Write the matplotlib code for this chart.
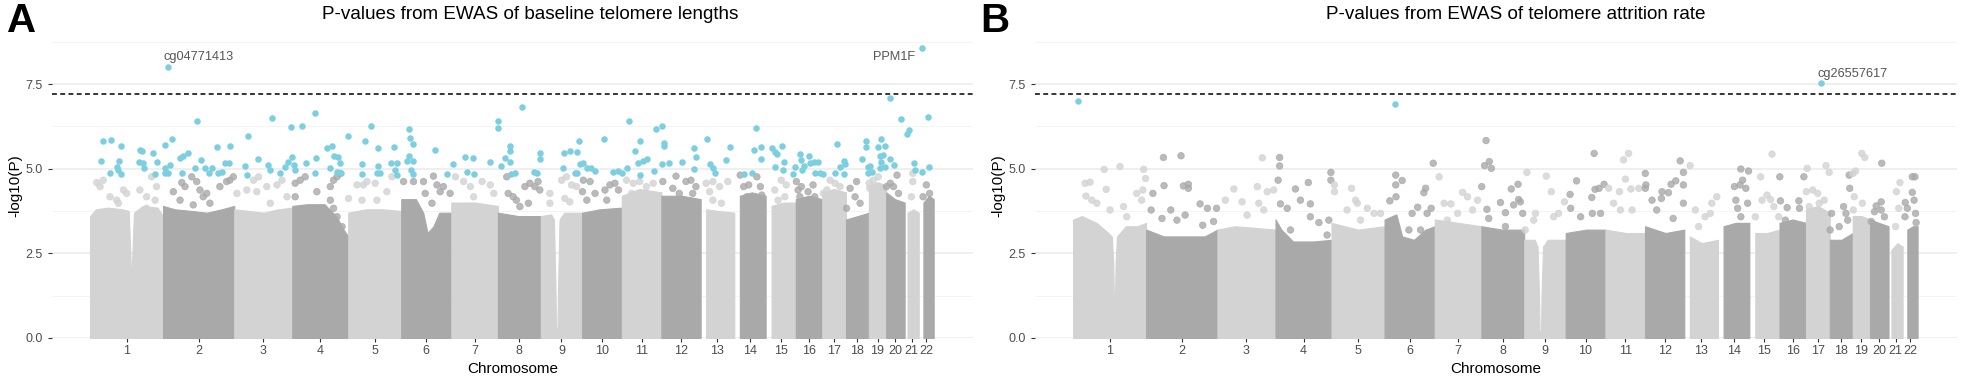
import numpy as np
import matplotlib.pyplot as plt

plt.rcParams['font.family'] = ['Liberation Sans', 'DejaVu Sans']

# chromosome lengths (Mb, hg19) and tick labels
chrom_len = [249.25, 243.20, 198.02, 191.15, 180.92, 171.12, 159.14, 146.36,
             141.21, 135.53, 135.01, 133.85, 115.17, 107.35, 102.53, 90.35,
             81.20, 78.08, 59.13, 63.03, 48.13, 51.30]
chrom_labels = [str(i) for i in range(1, 23)]

threshold = 7.2

# upper edge of the dense cloud of probes: (chr, pos Mb, -log10 P)
bulk_a = [
    (1, 0, 3.6), (1, 20, 3.8), (1, 60, 3.85), (1, 110, 3.8), (1, 132, 3.75), (1, 137, 2.6),
    (1, 139, 2.1), (1, 143, 2.1), (1, 145, 2.6), (1, 150, 3.7), (1, 180, 3.9), (1, 230, 3.85),
    (1, 249, 3.6),
    (2, 0, 3.9), (2, 40, 3.8), (2, 100, 3.75), (2, 150, 3.7), (2, 200, 3.8), (2, 243, 3.9),
    (3, 0, 3.8), (3, 50, 3.75), (3, 100, 3.7), (3, 150, 3.8), (3, 198, 3.85),
    (4, 0, 3.9), (4, 50, 3.95), (4, 110, 3.95), (4, 150, 3.6), (4, 175, 3.2), (4, 191, 3.0),
    (5, 0, 3.7), (5, 60, 3.8), (5, 120, 3.8), (5, 181, 3.75),
    (6, 0, 4.1), (6, 50, 4.1), (6, 75, 3.7), (6, 90, 3.1), (6, 110, 3.3), (6, 130, 3.7), (6, 171, 3.7),
    (7, 0, 4.0), (7, 80, 4.0), (7, 159, 3.9),
    (8, 0, 3.7), (8, 70, 3.6), (8, 146, 3.6),
    (9, 0, 3.6), (9, 35, 3.65), (9, 45, 3.5), (9, 50, 1.5), (9, 52, 0.3), (9, 57, 0.3),
    (9, 59, 1.5), (9, 64, 3.5), (9, 80, 3.7), (9, 141, 3.7),
    (10, 0, 3.7), (10, 60, 3.8), (10, 136, 3.85),
    (11, 0, 4.2), (11, 60, 4.4), (11, 135, 4.3),
    (12, 0, 4.2), (12, 70, 4.2), (12, 134, 4.1),
    (13, 19, 3.8), (13, 60, 3.75), (13, 115, 3.7),
    (14, 19, 4.2), (14, 60, 4.3), (14, 107, 4.2),
    (15, 20, 3.9), (15, 60, 4.0), (15, 103, 4.0),
    (16, 0, 4.1), (16, 45, 4.2), (16, 90, 4.1),
    (17, 0, 4.3), (17, 40, 4.4), (17, 81, 4.3),
    (18, 0, 3.5), (18, 40, 3.6), (18, 78, 3.7),
    (19, 0, 4.5), (19, 30, 4.6), (19, 59, 4.5),
    (20, 0, 4.3), (20, 30, 4.1), (20, 63, 4.0),
    (21, 10, 3.7), (21, 30, 3.8), (21, 48, 3.7),
    (22, 16, 4.0), (22, 35, 4.2), (22, 51, 4.1),
]

bulk_b = [
    (1, 0, 3.5), (1, 30, 3.6), (1, 80, 3.4), (1, 120, 3.1), (1, 132, 3.0), (1, 137, 2.2),
    (1, 139, 1.2), (1, 143, 1.2), (1, 145, 2.2), (1, 150, 3.0), (1, 180, 3.3), (1, 220, 3.3),
    (1, 249, 3.4),
    (2, 0, 3.2), (2, 60, 3.0), (2, 130, 3.0), (2, 200, 3.0), (2, 243, 3.2),
    (3, 0, 3.2), (3, 60, 3.3), (3, 130, 3.25), (3, 198, 3.2),
    (4, 0, 3.5), (4, 20, 3.2), (4, 60, 2.85), (4, 130, 2.85), (4, 191, 2.9),
    (5, 0, 3.4), (5, 90, 3.2), (5, 181, 3.3),
    (6, 0, 3.5), (6, 40, 3.65), (6, 60, 3.0), (6, 100, 2.9), (6, 140, 3.2), (6, 171, 3.3),
    (7, 0, 3.5), (7, 80, 3.4), (7, 159, 3.3),
    (8, 0, 3.3), (8, 70, 3.2), (8, 146, 3.2),
    (9, 0, 2.9), (9, 35, 2.9), (9, 45, 2.7), (9, 50, 1.3), (9, 52, 0.2), (9, 57, 0.2),
    (9, 59, 1.3), (9, 64, 2.7), (9, 80, 2.9), (9, 141, 2.9),
    (10, 0, 3.1), (10, 70, 3.2), (10, 136, 3.2),
    (11, 0, 3.2), (11, 70, 3.1), (11, 135, 3.1),
    (12, 0, 3.3), (12, 70, 3.1), (12, 134, 3.2),
    (13, 19, 3.0), (13, 60, 2.8), (13, 115, 2.9),
    (14, 19, 3.3), (14, 60, 3.4), (14, 107, 3.4),
    (15, 20, 3.1), (15, 60, 3.1), (15, 103, 3.2),
    (16, 0, 3.4), (16, 45, 3.5), (16, 90, 3.4),
    (17, 0, 3.8), (17, 40, 3.9), (17, 81, 3.7),
    (18, 0, 2.9), (18, 40, 2.9), (18, 78, 3.1),
    (19, 0, 3.6), (19, 30, 3.6), (19, 59, 3.5),
    (20, 0, 3.5), (20, 30, 3.4), (20, 63, 3.3),
    (21, 10, 2.6), (21, 30, 2.8), (21, 48, 2.7),
    (22, 16, 3.2), (22, 35, 3.3), (22, 51, 3.3),
]

# loose probes above the cloud
grey_a = [
    (1, 23, 4.59), (1, 34, 4.47), (1, 45, 4.66), (1, 68, 4.17), (1, 91, 4.07), (1, 114, 4.37),
    (1, 125, 4.27), (1, 97, 3.98), (1, 170, 4.37), (1, 193, 4.17), (1, 210, 4.76), (1, 227, 4.47),
    (1, 222, 4.07), (1, 193, 3.83),
    (2, 35, 4.32), (2, 64, 4.59), (2, 75, 4.47), (2, 98, 4.76), (2, 115, 4.62), (2, 126, 4.37),
    (2, 137, 4.17), (2, 160, 3.98), (2, 149, 4.27), (2, 194, 4.47), (2, 217, 4.62), (2, 228, 4.66),
    (2, 240, 4.76), (2, 58, 4.07), (2, 103, 3.93),
    (3, 9, 4.27), (3, 43, 4.37), (3, 66, 4.66), (3, 83, 4.76), (3, 111, 4.47), (3, 123, 3.98),
    (3, 146, 4.52), (3, 163, 4.66), (3, 180, 4.17), (3, 77, 4.32),
    (4, 10, 4.57), (4, 27, 4.66), (4, 44, 4.76), (4, 10, 4.17), (4, 84, 4.32), (4, 130, 4.47),
    (4, 141, 4.66), (4, 153, 4.76), (4, 164, 4.86), (4, 130, 4.07), (4, 141, 3.83), (4, 153, 3.58),
    (4, 170, 3.29),
    (5, 1, 4.12), (5, 30, 4.52), (5, 52, 4.52), (5, 64, 4.62), (5, 92, 4.57), (5, 132, 4.32),
    (5, 149, 4.76), (5, 98, 4.07), (5, 47, 4.07),
    (6, 8, 4.62), (6, 42, 4.62), (6, 76, 4.62), (6, 110, 4.78), (6, 122, 4.52), (6, 133, 4.32),
    (6, 144, 4.47), (6, 167, 4.27), (6, 82, 4.27), (6, 105, 3.98),
    (7, 14, 4.76), (7, 42, 4.62), (7, 65, 4.47), (7, 105, 4.62), (7, 133, 4.52), (7, 145, 4.27),
    (7, 76, 4.17),
    (8, 30, 4.76), (8, 35, 4.27), (8, 52, 4.17), (8, 63, 4.07), (8, 92, 4.47), (8, 109, 4.57),
    (8, 126, 4.47), (8, 137, 4.62), (8, 143, 4.37), (8, 75, 3.88), (8, 104, 3.98),
    (9, 31, 4.27), (9, 31, 3.98), (9, 71, 4.66), (9, 88, 4.76), (9, 105, 4.52), (9, 82, 4.12),
    (9, 122, 4.47), (9, 99, 4.02),
    (10, 4, 4.66), (10, 27, 4.62), (10, 1, 4.32), (10, 16, 4.07), (10, 44, 4.27), (10, 78, 4.37),
    (10, 95, 4.52), (10, 112, 4.57), (10, 124, 4.37), (10, 84, 4.07),
    (11, 16, 4.66), (11, 39, 4.57), (11, 61, 4.62), (11, 84, 4.47), (11, 107, 4.57), (11, 33, 4.27),
    (11, 90, 4.17),
    (12, 50, 4.78), (12, 5, 4.62), (12, 39, 4.42), (12, 84, 4.62), (12, 101, 4.66), (12, 118, 4.47),
    (12, 61, 4.27), (12, 107, 4.27),
    (13, 19, 4.57), (13, 42, 4.62), (13, 31, 4.32), (13, 65, 4.47), (13, 93, 4.62), (13, 71, 3.98),
    (13, 42, 4.07),
    (14, 20, 4.81), (14, 32, 4.47), (14, 49, 4.52), (14, 77, 4.76), (14, 89, 4.47), (14, 43, 4.17),
    (14, 66, 4.07), (14, 94, 4.22),
    (15, 53, 4.66), (15, 70, 4.52), (15, 31, 4.37), (15, 42, 4.07), (15, 65, 4.17),
    (16, 2, 4.62), (16, 8, 4.37), (16, 19, 4.47), (16, 42, 4.32), (16, 59, 4.52), (16, 14, 4.17),
    (16, 65, 4.17),
    (17, 27, 4.66), (17, 44, 4.57), (17, 16, 4.37), (17, 61, 4.47), (17, 4, 4.27),
    (18, 14, 4.42), (18, 36, 4.62), (18, 2, 3.83), (18, 48, 3.98), (18, 31, 4.17),
    (19, 1, 4.57), (19, 15, 4.66), (19, 32, 4.76), (19, 3, 4.42),
    (20, 37, 4.81), (20, 14, 4.57), (20, 42, 4.27), (20, 25, 4.47), (20, 1, 4.47),
    (21, 28, 4.62), (21, 23, 4.17), (21, 28, 4.86),
    (22, 26, 4.52), (22, 37, 4.27), (22, 15, 4.17),
]

grey_b = [
    (1, 41, 4.57), (1, 58, 4.6), (1, 44, 4.19), (1, 64, 4.07), (1, 81, 3.98), (1, 106, 4.98),
    (1, 113, 4.39), (1, 126, 3.78), (1, 160, 5.06), (1, 172, 3.88), (1, 183, 3.58), (1, 217, 4.27),
    (1, 241, 4.98), (1, 247, 4.71), (1, 238, 4.37), (1, 234, 4.07),
    (2, 23, 4.27), (2, 59, 5.33), (2, 61, 4.5), (2, 54, 3.53), (2, 84, 3.78), (2, 119, 5.38),
    (2, 127, 4.49), (2, 144, 4.54), (2, 144, 4.42), (2, 133, 3.63), (2, 184, 3.96), (2, 209, 3.83),
    (2, 193, 3.33), (2, 240, 3.83), (2, 230, 3.44), (2, 105, 3.48), (2, 17, 3.78),
    (3, 27, 4.07), (3, 56, 4.4), (3, 84, 4.02), (3, 136, 4.47), (3, 153, 5.32), (3, 170, 4.32),
    (3, 192, 4.37), (3, 141, 3.98), (3, 158, 3.78), (3, 101, 3.63),
    (4, 14, 5.33), (4, 14, 5.08), (4, 9, 4.66), (4, 17, 3.96), (4, 40, 3.83), (4, 68, 4.4),
    (4, 85, 4.07), (4, 112, 4.59), (4, 119, 3.96), (4, 51, 3.19), (4, 119, 3.58), (4, 148, 3.41),
    (4, 182, 3.48), (4, 189, 4.89), (4, 189, 4.66), (4, 176, 3.04),
    (5, 10, 4.32), (5, 10, 4.52), (5, 68, 4.42), (5, 82, 4.07), (5, 88, 3.98), (5, 122, 3.83),
    (5, 145, 3.68), (5, 167, 3.68), (5, 53, 3.78), (5, 99, 3.48),
    (6, 38, 4.81), (6, 38, 4.52), (6, 60, 4.65), (6, 39, 4.17), (6, 18, 4.05), (6, 94, 3.68),
    (6, 113, 3.86), (6, 134, 4.29), (6, 140, 4.42), (6, 145, 3.68), (6, 166, 5.16), (6, 159, 3.83),
    (6, 83, 3.19), (6, 123, 3.19),
    (7, 15, 4.76), (7, 32, 3.98), (7, 55, 3.96), (7, 95, 4.3), (7, 112, 4.17), (7, 146, 4.07),
    (7, 78, 3.68), (7, 129, 3.78), (7, 43, 3.48),
    (8, 16, 5.83), (8, 11, 5.09), (8, 27, 5.21), (8, 34, 5.01), (8, 1, 4.47), (8, 19, 3.8),
    (8, 25, 3.53), (8, 65, 4.0), (8, 82, 3.7), (8, 102, 4.4), (8, 125, 4.54), (8, 127, 4.09),
    (8, 133, 4.02), (8, 141, 3.68), (8, 82, 3.29), (8, 110, 3.93),
    (9, 9, 4.89), (9, 75, 4.78), (9, 92, 4.32), (9, 38, 3.68), (9, 32, 3.48), (9, 100, 3.58),
    (9, 117, 3.68), (9, 137, 4.02), (9, 3, 3.19),
    (10, 15, 4.24), (10, 37, 4.64), (10, 17, 3.83), (10, 51, 3.58), (10, 89, 4.15), (10, 97, 5.45),
    (10, 100, 4.39), (10, 114, 4.42), (10, 131, 4.54), (10, 119, 3.68), (10, 91, 3.68),
    (11, 62, 5.26), (11, 79, 5.45), (11, 68, 4.69), (11, 48, 4.32), (11, 87, 4.4), (11, 11, 4.42),
    (11, 28, 3.98), (11, 51, 3.78), (11, 114, 4.42), (11, 91, 3.78),
    (12, 1, 4.86), (12, 1, 4.42), (12, 3, 4.52), (12, 24, 4.07), (12, 56, 4.12), (12, 58, 4.32),
    (12, 80, 4.29), (12, 89, 4.54), (12, 105, 4.64), (12, 120, 5.23), (12, 131, 4.89),
    (12, 131, 4.52), (12, 131, 3.98), (12, 40, 3.78), (12, 96, 3.53),
    (13, 20, 5.09), (13, 38, 3.78), (13, 94, 3.98), (13, 111, 4.17), (13, 71, 3.58), (13, 89, 3.68),
    (13, 49, 3.29),
    (14, 78, 4.99), (14, 104, 4.93), (14, 84, 4.66), (14, 75, 4.52), (14, 61, 4.07), (14, 56, 4.47),
    (14, 95, 4.42), (14, 101, 3.98), (14, 67, 3.83), (14, 78, 3.58),
    (15, 77, 5.43), (15, 38, 4.76), (15, 60, 4.22), (15, 72, 4.09), (15, 43, 4.07), (15, 20, 3.58),
    (15, 83, 3.88), (15, 100, 3.58),
    (16, 1, 4.76), (16, 3, 4.05), (16, 26, 3.85), (16, 66, 4.05), (16, 83, 4.76), (16, 68, 3.83),
    (16, 20, 3.48),
    (17, 4, 5.01), (17, 1, 4.32), (17, 23, 4.37), (17, 40, 4.27), (17, 45, 3.98), (17, 11, 3.88),
    (17, 62, 4.07), (17, 68, 5.09), (17, 79, 4.89),
    (18, 6, 3.68), (18, 1, 3.19), (18, 47, 3.88), (18, 55, 3.68), (18, 66, 4.81), (18, 68, 4.42),
    (18, 32, 3.29), (18, 61, 3.48),
    (19, 31, 5.45), (19, 41, 5.33), (19, 1, 4.86), (19, 10, 4.93), (19, 5, 4.17), (19, 33, 3.98),
    (19, 2, 3.78),
    (20, 40, 5.16), (20, 38, 4.02), (20, 38, 3.78), (20, 15, 3.73), (20, 49, 3.58), (20, 4, 3.44),
    (20, 21, 3.9),
    (21, 39, 4.59), (21, 27, 4.32), (21, 35, 3.83), (21, 24, 3.29),
    (22, 33, 4.76), (22, 42, 4.76), (22, 33, 4.3), (22, 39, 4.07), (22, 9, 4.0), (22, 44, 3.68),
    (22, 16, 3.83), (22, 46, 3.41), (22, 8, 3.58),
]

# highlighted probes
hits_a = [
    (1, 45, 5.83), (1, 70, 5.85), (1, 105, 5.67), (1, 38, 5.23), (1, 68, 4.88), (1, 100, 5.23),
    (1, 91, 5.06), (1, 97, 4.96), (1, 105, 4.84), (1, 170, 5.55), (1, 176, 5.53), (1, 167, 5.2),
    (1, 182, 5.16), (1, 185, 5.01), (1, 214, 5.45), (1, 227, 5.2), (1, 222, 4.84),
    (2, 7, 5.7), (2, 32, 5.87), (2, 5, 5.01), (2, 24, 5.11), (2, 18, 4.86), (2, 7, 4.88),
    (2, 58, 5.32), (2, 69, 5.37), (2, 84, 5.45), (2, 64, 4.88), (2, 109, 5.03), (2, 130, 5.26),
    (2, 117, 6.42), (2, 143, 5.01), (2, 157, 4.88), (2, 166, 5.01), (2, 183, 5.65), (2, 189, 4.86),
    (2, 200, 4.91), (2, 211, 5.16), (2, 225, 5.16), (2, 227, 5.66), (2, 16, 8.0),
    (3, 35, 5.08), (3, 42, 4.82), (3, 48, 5.96), (3, 82, 5.3), (3, 115, 5.12), (3, 123, 4.96),
    (3, 128, 6.49), (3, 157, 4.88), (3, 174, 5.06), (3, 185, 5.21), (3, 195, 6.24), (3, 197, 5.35),
    (4, 5, 5.11), (4, 10, 4.96), (4, 33, 6.27), (4, 47, 5.16), (4, 76, 6.63), (4, 81, 5.31),
    (4, 78, 4.88), (4, 118, 5.6), (4, 135, 5.67), (4, 141, 5.37), (4, 156, 5.33), (4, 164, 5.18),
    (4, 129, 5.01), (4, 153, 4.91), (4, 167, 4.88), (4, 190, 5.97),
    (5, 47, 5.14), (5, 47, 4.84), (5, 56, 5.83), (5, 77, 6.27), (5, 101, 5.6), (5, 101, 5.08),
    (5, 98, 4.86), (5, 109, 4.88), (5, 147, 5.18), (5, 157, 5.65), (5, 166, 5.16), (5, 160, 4.96),
    (5, 166, 4.81),
    (6, 19, 5.24), (6, 27, 5.37), (6, 39, 5.24), (6, 28, 6.16), (6, 31, 5.9), (6, 39, 5.73),
    (6, 34, 4.96), (6, 39, 4.84), (6, 116, 5.54), (6, 156, 4.84),
    (7, 6, 5.13), (7, 48, 5.34), (7, 74, 5.32), (7, 54, 4.89), (7, 76, 4.85), (7, 132, 5.2),
    (8, 1, 6.42), (8, 1, 6.2), (8, 24, 5.31), (8, 10, 5.08), (8, 41, 5.67), (8, 42, 5.53),
    (8, 42, 5.21), (8, 43, 4.84), (8, 58, 4.88), (8, 81, 6.82), (8, 143, 5.45), (8, 145, 5.3),
    (8, 124, 4.91), (8, 133, 4.86),
    (9, 79, 5.45), (9, 75, 5.03), (9, 99, 5.53), (9, 122, 5.48), (9, 131, 5.82), (9, 133, 5.14),
    (9, 116, 4.88), (9, 125, 4.86),
    (10, 4, 5.18), (10, 16, 5.01), (10, 31, 5.01), (10, 44, 4.93), (10, 76, 5.89), (10, 107, 4.89),
    (10, 124, 4.94),
    (11, 1, 4.86), (11, 16, 5.03), (11, 25, 6.41), (11, 44, 5.52), (11, 61, 5.82), (11, 56, 5.16),
    (11, 73, 5.24), (11, 86, 5.3), (11, 61, 4.82), (11, 109, 4.94), (11, 115, 6.16),
    (12, 1, 6.27), (12, 8, 5.75), (12, 10, 5.68), (12, 2, 5.14), (12, 25, 5.16), (12, 72, 5.21),
    (12, 113, 5.61), (12, 118, 5.34), (12, 113, 5.0),
    (13, 21, 5.88), (13, 33, 5.13), (13, 42, 5.03), (13, 48, 4.88), (13, 86, 5.26), (13, 99, 5.65),
    (14, 34, 4.84), (14, 60, 4.88), (14, 68, 5.56), (14, 75, 6.19), (14, 91, 5.63), (14, 92, 5.28),
    (15, 22, 5.6), (15, 33, 5.5), (15, 40, 5.43), (15, 54, 5.66), (15, 31, 5.06), (15, 62, 5.21),
    (15, 59, 4.95), (15, 93, 4.84), (15, 101, 5.06),
    (16, 14, 5.43), (16, 19, 5.26), (16, 21, 4.96), (16, 28, 5.08), (16, 44, 5.37), (16, 48, 5.16),
    (16, 62, 5.21), (16, 76, 5.19), (16, 67, 4.88), (16, 82, 4.86),
    (17, 4, 4.84), (17, 50, 5.72), (17, 42, 4.88), (17, 61, 5.06), (17, 73, 5.23), (17, 78, 5.14),
    (17, 73, 4.84),
    (18, 53, 5.3), (18, 68, 5.82), (18, 67, 5.65), (18, 74, 5.06), (18, 76, 4.86),
    (19, 3, 5.08), (19, 11, 4.91), (19, 32, 5.65), (19, 43, 5.88), (19, 55, 5.68), (19, 38, 5.37),
    (19, 49, 5.4), (19, 41, 5.21), (19, 55, 5.06), (19, 38, 5.01),
    (20, 14, 5.3), (20, 28, 5.11), (20, 14, 7.08), (20, 49, 6.48),
    (21, 14, 6.14), (21, 9, 6.01), (21, 32, 5.16), (21, 37, 4.96),
    (22, 11, 4.91), (22, 35, 5.04), (22, 30, 6.54), (22, 11, 8.57),
]

hits_b = [(1, 17, 7.0), (6, 37, 6.92), (17, 50, 7.52)]

# named probes: (chr, pos, -log10 P, label, text offset in points)
labels_a = [(2, 16, 8.0, 'cg04771413', (22, 7)), (22, 11, 8.57, 'PPM1F', (-20, -7))]
labels_b = [(17, 50, 7.52, 'cg26557617', (23, 7))]

light, dark, cyan = '#d3d3d3', '#a9a9a9', '#7ccfe0'

offsets = np.concatenate([[0], np.cumsum(chrom_len)[:-1]])
mids = offsets + np.array(chrom_len) / 2


def cum(rows):
    c = np.array([r[0] for r in rows])
    x = offsets[c - 1] + np.array([r[1] for r in rows])
    y = np.array([r[2] for r in rows])
    return c, x, y


def panel(ax, bulk, grey, hits, labels, title, fx):
    c, x, y = cum(bulk)
    for k in range(1, 23):
        m = c == k
        col = light if k % 2 else dark
        ax.fill_between(x[m], 0, y[m], facecolor=col, edgecolor=col, lw=0.8,
                        joinstyle='round', zorder=2)
    c, x, y = cum(grey)
    cols = [light if k % 2 else dark for k in c]
    ax.scatter(x, y, s=22, c=cols, edgecolors=cols, linewidths=0.6, alpha=0.8, zorder=3)
    c, x, y = cum(hits)
    ax.scatter(x, y, s=22, c=cyan, linewidths=0, zorder=4)
    ax.axhline(threshold, color='black', lw=1.1, ls=(0, (3.2, 2.2)), zorder=5)
    for ch, pos, val, txt, off in labels:
        ax.annotate(txt, (offsets[ch - 1] + pos, val), xytext=off, textcoords='offset points',
                    ha='center', va='center', fontsize=9.2, color='#555555', zorder=6)

    ax.set_xlim(-130, 3015)
    ax.set_ylim(0, 9)
    ax.set_yticks([0, 2.5, 5, 7.5])
    ax.set_yticklabels(['0.0', '2.5', '5.0', '7.5'])
    ax.set_yticks([1.25, 3.75, 6.25, 8.75], minor=True)
    ax.set_xticks(mids)
    ax.set_xticklabels(chrom_labels)
    ax.grid(axis='y', which='major', color='#ebebeb', lw=1.1, zorder=0)
    ax.grid(axis='y', which='minor', color='#f2f2f2', lw=0.6, zorder=0)
    ax.set_axisbelow(True)
    for s in ax.spines.values():
        s.set_visible(False)
    ax.tick_params(axis='both', which='major', length=3, width=0.8, color='#333333',
                   labelsize=9, labelcolor='#4d4d4d')
    ax.tick_params(axis='x', pad=2)
    ax.tick_params(axis='y', pad=3.5)
    ax.tick_params(which='minor', length=0)
    ax.text(-0.0402, 0.5, '-log10(P)', transform=ax.transAxes, rotation=90,
            ha='center', va='center', fontsize=11)
    ax.text(0.5, -0.102, 'Chromosome', transform=ax.transAxes,
            ha='center', va='center', fontsize=11)
    fig.text(fx, 0.961, title, ha='center', va='center', fontsize=13.6)


fig = plt.figure(figsize=(19.65, 3.83), dpi=100)
ax1 = fig.add_axes([0.02646, 0.1175, 0.4687, 0.7958])
ax2 = fig.add_axes([0.5267, 0.1175, 0.4692, 0.7958])

panel(ax1, bulk_a, grey_a, hits_a, labels_a,
      'P-values from EWAS of baseline telomere lengths', 0.2697)
panel(ax2, bulk_b, grey_b, hits_b, labels_b,
      'P-values from EWAS of telomere attrition rate', 0.7715)

fig.text(0.0036, 0.9164, 'A', fontsize=29, fontweight='bold', va='baseline')
fig.text(0.4987, 0.9164, 'B', fontsize=29, fontweight='bold', va='baseline')

fig.savefig('out.png', dpi=100)
